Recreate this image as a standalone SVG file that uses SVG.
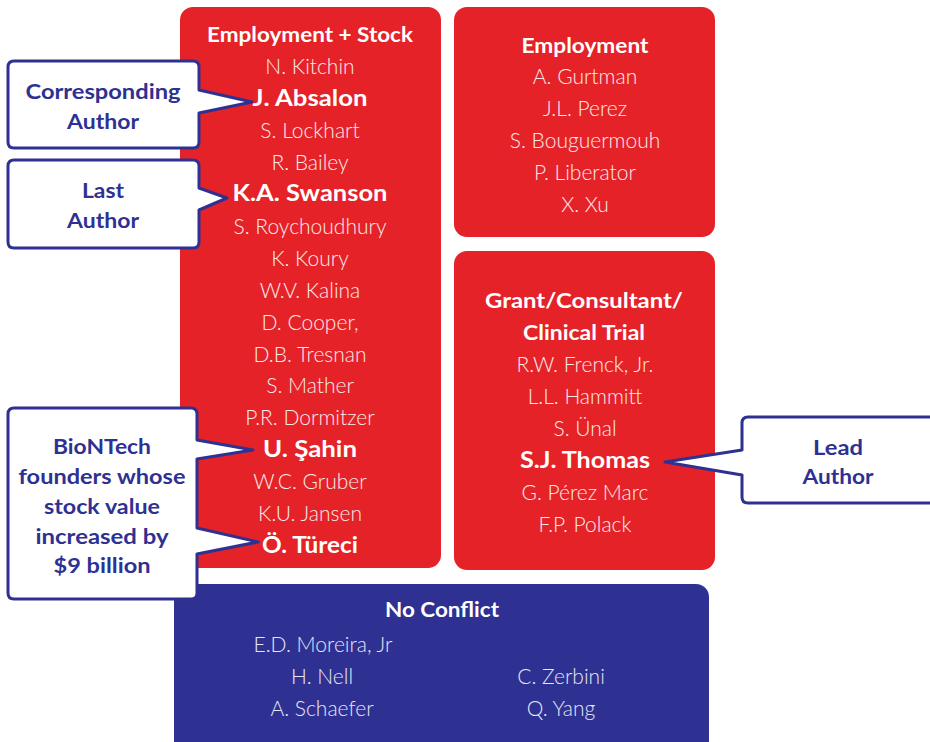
<svg xmlns="http://www.w3.org/2000/svg" width="930" height="742" viewBox="0 0 930 742">
<style>
.red{fill:#e52228}
.blue{fill:#2e3192}
.call{fill:#ffffff;stroke:#2e3192;stroke-width:3;stroke-linejoin:round}
text{font-family:Lato,"Noto Sans","Liberation Sans",sans-serif;text-anchor:middle;dominant-baseline:central}
.h{font-size:21px;font-weight:700;fill:#ffffff}
.n{font-size:21px;font-weight:300;fill:#fbeaea}
.nb{font-size:22px;font-weight:700;fill:#ffffff}
.nw{font-size:21px;font-weight:300;fill:#e6e6f4}
.c{font-size:21px;font-weight:700;fill:#2e3192}
</style>
<rect width="930" height="742" fill="#ffffff"/>
<g id="employment-stock">
<rect class="red" x="180" y="7" width="261" height="561" rx="13"/>
<text class="h" x="310" y="33" textLength="206" lengthAdjust="spacingAndGlyphs">Employment + Stock</text>
<text class="n" x="310" y="65">N. Kitchin</text>
<text class="nb" x="310" y="97" textLength="115" lengthAdjust="spacingAndGlyphs">J. Absalon</text>
<text class="n" x="310" y="129">S. Lockhart</text>
<text class="n" x="310" y="161">R. Bailey</text>
<text class="nb" x="310" y="192" textLength="155" lengthAdjust="spacingAndGlyphs">K.A. Swanson</text>
<text class="n" x="310" y="225">S. Roychoudhury</text>
<text class="n" x="310" y="257">K. Koury</text>
<text class="n" x="310" y="289">W.V. Kalina</text>
<text class="n" x="310" y="321">D. Cooper,</text>
<text class="n" x="310" y="353">D.B. Tresnan</text>
<text class="n" x="310" y="384">S. Mather</text>
<text class="n" x="310" y="416">P.R. Dormitzer</text>
<text class="nb" x="310" y="448" textLength="94" lengthAdjust="spacingAndGlyphs">U. Şahin</text>
<text class="n" x="310" y="480">W.C. Gruber</text>
<text class="n" x="310" y="512">K.U. Jansen</text>
<text class="nb" x="310" y="544" textLength="96" lengthAdjust="spacingAndGlyphs">Ö. Türeci</text>
</g>
<g id="employment">
<rect class="red" x="454" y="7" width="261" height="230" rx="13"/>
<text class="h" x="585" y="44" textLength="127" lengthAdjust="spacingAndGlyphs">Employment</text>
<text class="n" x="585" y="75">A. Gurtman</text>
<text class="n" x="585" y="107">J.L. Perez</text>
<text class="n" x="585" y="139">S. Bouguermouh</text>
<text class="n" x="585" y="171">P. Liberator</text>
<text class="n" x="585" y="203">X. Xu</text>
</g>
<g id="grant">
<rect class="red" x="454" y="251" width="261" height="319" rx="13"/>
<text class="h" x="584" y="299" textLength="198" lengthAdjust="spacingAndGlyphs">Grant/Consultant/</text>
<text class="h" x="584" y="331" textLength="122" lengthAdjust="spacingAndGlyphs">Clinical Trial</text>
<text class="n" x="585" y="363">R.W. Frenck, Jr.</text>
<text class="n" x="585" y="395">L.L. Hammitt</text>
<text class="n" x="585" y="427">S. Ünal</text>
<text class="nb" x="585" y="459" textLength="130" lengthAdjust="spacingAndGlyphs">S.J. Thomas</text>
<text class="n" x="585" y="491">G. Pérez Marc</text>
<text class="n" x="585" y="523">F.P. Polack</text>
</g>
<g id="no-conflict">
<rect class="blue" x="174" y="584" width="535" height="170" rx="13"/>
<text class="h" x="442" y="608" textLength="114" lengthAdjust="spacingAndGlyphs">No Conflict</text>
<text class="nw" x="323" y="643">E.D. Moreira, Jr</text>
<text class="nw" x="322" y="675">H. Nell</text>
<text class="nw" x="561" y="675">C. Zerbini</text>
<text class="nw" x="322" y="707">A. Schaefer</text>
<text class="nw" x="561" y="707">Q. Yang</text>
</g>
<g id="connectors">
<path id="callout-corresponding" class="call" d="M14,61 H193 Q199,61 199,67 V90 L252,102 L199,113 V142 Q199,148 193,148 H14 Q8,148 8,142 V67 Q8,61 14,61 Z"/>
<path id="callout-last" class="call" d="M14,160 H193 Q199,160 199,166 V188 L227,198 L199,210 V242 Q199,248 193,248 H14 Q8,248 8,242 V166 Q8,160 14,160 Z"/>
<path id="callout-biontech" class="call" d="M14,408 H191 Q197,408 197,414 V440 L253,450 L197,459 V528 L258,542 L197,554 V593 Q197,599 191,599 H14 Q8,599 8,593 V414 Q8,408 14,408 Z"/>
<path id="callout-lead" class="call" d="M748,417 H940 V503 H748 Q742,503 742,497 V475 L665,462 L742,450 V423 Q742,417 748,417 Z"/>
</g>
<g id="labels">
<text class="c" x="103" y="90" textLength="155" lengthAdjust="spacingAndGlyphs">Corresponding</text>
<text class="c" x="103" y="120" textLength="72" lengthAdjust="spacingAndGlyphs">Author</text>
<text class="c" x="103" y="189" textLength="42" lengthAdjust="spacingAndGlyphs">Last</text>
<text class="c" x="103" y="219" textLength="72" lengthAdjust="spacingAndGlyphs">Author</text>
<text class="c" x="102" y="445" textLength="98" lengthAdjust="spacingAndGlyphs">BioNTech</text>
<text class="c" x="102" y="475" textLength="167" lengthAdjust="spacingAndGlyphs">founders whose</text>
<text class="c" x="102" y="505" textLength="116" lengthAdjust="spacingAndGlyphs">stock value</text>
<text class="c" x="102" y="535" textLength="133" lengthAdjust="spacingAndGlyphs">increased by</text>
<text class="c" x="102" y="564" textLength="97" lengthAdjust="spacingAndGlyphs">$9 billion</text>
<text class="c" x="838" y="446" textLength="50" lengthAdjust="spacingAndGlyphs">Lead</text>
<text class="c" x="838" y="475" textLength="71" lengthAdjust="spacingAndGlyphs">Author</text>
</g>
</svg>
